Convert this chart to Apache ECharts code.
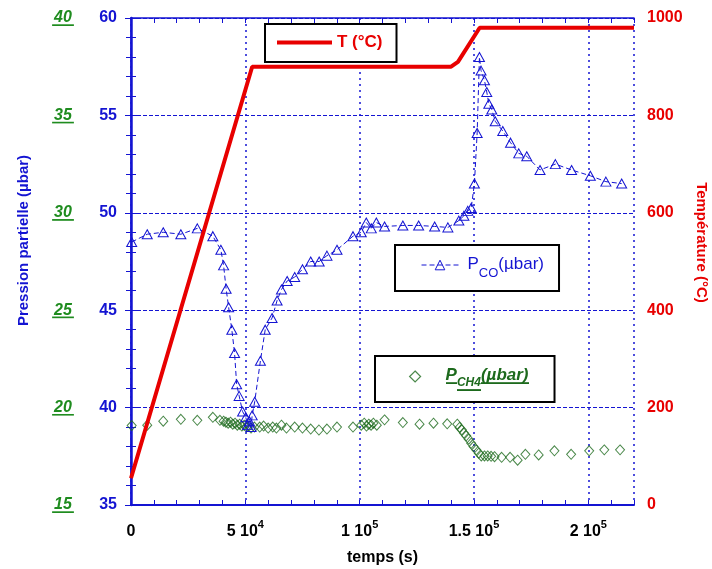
<!DOCTYPE html>
<html><head><meta charset="utf-8">
<script src="https://cdn.jsdelivr.net/npm/echarts@6/dist/echarts.min.js"></script>
<style>html,body{margin:0;padding:0;background:#fff}#c{width:712px;height:569px}</style>
</head><body><div id="c"></div>
<script>
// ---------- DATA ----------
const tempTime = [0, 53000, 140000, 143000, 152500, 220000];
const tempVal  = [55, 900, 900, 910, 980, 980];

const coTime = [300, 7100, 14100, 21800, 29000, 35800, 39300, 40500, 41600, 42700, 44100, 45300, 46200, 47300, 48800, 50200, 51000, 51800, 52500, 53000, 54100, 56600, 58700, 61700, 63900, 65800, 68300, 71600, 75000, 78600, 82300, 85700, 90100, 97100, 100700, 102900, 105100, 107300, 110900, 118900, 125800, 132800, 138600, 143400, 145600, 147300, 148800, 150200, 151400, 152400, 153100, 154600, 155600, 156500, 157800, 159300, 162600, 166000, 169600, 173100, 178900, 185600, 192700, 200900, 207700, 214600];
const coVal  = [48.5, 48.9, 49.0, 48.9, 49.2, 48.8, 48.1, 47.3, 46.1, 45.15, 44.0, 42.8, 41.2, 40.6, 39.8, 39.5, 39.1, 39.3, 39.0, 39.6, 40.3, 42.4, 44.0, 44.6, 45.5, 46.06, 46.5, 46.7, 47.1, 47.5, 47.5, 47.8, 48.1, 48.8, 49.0, 49.5, 49.2, 49.5, 49.3, 49.35, 49.35, 49.3, 49.25, 49.6, 49.85, 50.1, 50.25, 51.5, 54.1, 58.0, 57.3, 56.8, 56.2, 55.6, 55.3, 54.7, 54.2, 53.6, 53.05, 52.9, 52.2, 52.5, 52.2, 51.9, 51.6, 51.5];

const ch4Time = [300, 7100, 14100, 21800, 29000, 35800, 38900, 40500, 41500, 42500, 43500, 44500, 45500, 46500, 47500, 48500, 49500, 50500, 51500, 52500, 54000, 56300, 58000, 60000, 62000, 63600, 65800, 68000, 71600, 75000, 78600, 82200, 85700, 90100, 97100, 100700, 102000, 103000, 104000, 105000, 106000, 107500, 110900, 118900, 126200, 132300, 138300, 142700, 143700, 144700, 145600, 146600, 147700, 148800, 149800, 151000, 152100, 153200, 154600, 156000, 157500, 159000, 162100, 165800, 169100, 172500, 178300, 185200, 192500, 200400, 207000, 213900];
const ch4Val  = [19.08, 19.1, 19.3, 19.4, 19.35, 19.5, 19.35, 19.3, 19.25, 19.2, 19.25, 19.15, 19.2, 19.1, 19.15, 19.05, 19.1, 19.0, 19.05, 18.95, 19.0, 19.0, 19.05, 18.95, 19.0, 18.95, 19.1, 18.95, 19.0, 18.95, 18.9, 18.85, 18.9, 19.0, 19.0, 19.1, 19.2, 19.05, 19.15, 19.1, 19.2, 19.1, 19.37, 19.23, 19.15, 19.2, 19.17, 19.15, 18.98, 18.86, 18.69, 18.55, 18.38, 18.17, 18.0, 17.83, 17.66, 17.52, 17.52, 17.52, 17.5, 17.48, 17.45, 17.45, 17.3, 17.6, 17.57, 17.78, 17.6, 17.78, 17.83, 17.83];

const xTickValues   = [0, 50000, 100000, 150000, 200000];
const xTickMantissa = ['0', '5', '1', '1.5', '2'];
const xTickExponent = ['', '4', '5', '5', '5'];

const seriesNames = ['T (°C)', 'Pco', 'Pch4'];

// ---------- STYLE ----------
const FONT = 'Liberation Sans, Arial, sans-serif';
const BLUE = '#1414d2';
const RED = '#e80000';
const GREEN = '#1f8c1f';
const DGREEN = '#1d6a1d';
const CLEAR = 'rgba(255,255,255,0)';

function underline(h, thick, color) {
  const c = document.createElement('canvas');
  c.width = 4; c.height = h;
  const ctx = c.getContext('2d');
  ctx.fillStyle = color;
  ctx.fillRect(0, h - thick, 4, thick);
  return c;
}

const chart = echarts.init(document.getElementById('c'), null, {renderer: 'canvas'});

const option = {
  backgroundColor: '#fff',
  animation: false,
  textStyle: {fontFamily: FONT},
  grid: {left: 131, right: 78, top: 18, bottom: 64, containLabel: false, outerBoundsMode: 'none'},
  legend: [
    {
      data: [{name: seriesNames[0], icon: 'rect'}], left: 265, top: 24, orient: 'horizontal',
      padding: [10, 14, 11, 12], itemWidth: 55, itemHeight: 4,
      borderColor: '#000', borderWidth: 2, backgroundColor: '#fff',
      itemStyle: {color: RED},
      textStyle: {color: RED, fontWeight: 'bold', fontSize: 17, fontFamily: FONT}
    },
    {
      data: [seriesNames[1]], left: 395, top: 245,
      padding: [11, 15, 11, 26], itemWidth: 37, itemHeight: 12,
      borderColor: '#000', borderWidth: 2, backgroundColor: '#fff',
      itemStyle: {color: CLEAR, borderColor: BLUE, borderWidth: 1},
      lineStyle: {color: BLUE, width: 1, type: [5, 3]},
      formatter: () => '{sp| }{p|P}{s|CO}{p|(µbar)}',
      textStyle: {
        color: BLUE, fontFamily: FONT,
        rich: {
          sp: {width: 4},
          p: {fontSize: 17, lineHeight: 18, verticalAlign: 'top', color: BLUE, fontFamily: FONT},
          s: {fontSize: 13, lineHeight: 14, padding: [11, 0, 0, 0], verticalAlign: 'top', color: BLUE, fontFamily: FONT}
        }
      }
    },
    {
      data: [seriesNames[2]], left: 375, top: 356,
      padding: [11, 26, 11, 34], itemWidth: 11, itemHeight: 11,
      borderColor: '#000', borderWidth: 2, backgroundColor: '#fff',
      itemStyle: {color: CLEAR, borderColor: DGREEN, borderWidth: 1.2},
      formatter: () => '{sp| }{p|P}{s|CH4}{p|(µbar)}',
      textStyle: {
        color: DGREEN, fontFamily: FONT,
        rich: {
          sp: {width: 20},
          p: {fontSize: 17, lineHeight: 19, verticalAlign: 'top', color: DGREEN, fontWeight: 'bold', fontStyle: 'italic', fontFamily: FONT,
              backgroundColor: {image: underline(19, 2, DGREEN)}},
          s: {fontSize: 12, lineHeight: 14, padding: [10, 0, 2, 0], verticalAlign: 'top', color: DGREEN, fontWeight: 'bold', fontStyle: 'italic', fontFamily: FONT,
              backgroundColor: {image: underline(26, 2, DGREEN)}}
        }
      }
    }
  ],
  xAxis: [
    {
      type: 'value', position: 'bottom', min: 0, max: 220000, interval: 10000,
      name: 'temps (s)', nameLocation: 'middle', nameGap: 45,
      nameTextStyle: {color: '#000', fontWeight: 'bold', fontSize: 16, fontFamily: FONT},
      axisLine: {show: true, lineStyle: {color: BLUE, width: 2}},
      axisTick: {show: true, inside: true, length: 5, lineStyle: {color: BLUE, width: 1}},
      splitLine: {show: false},
      axisLabel: {
        show: true, margin: 14, showMaxLabel: true,
        formatter: v => {
          const i = xTickValues.indexOf(Math.round(v));
          if (i < 0) return '';
          if (!xTickExponent[i]) return '{n|' + xTickMantissa[i] + '}';
          return '{n|' + xTickMantissa[i] + ' 10}{e|' + xTickExponent[i] + '}';
        },
        rich: {
          n: {fontSize: 16, fontWeight: 'bold', color: '#000', padding: [5, 0, 0, 0], fontFamily: FONT},
          e: {fontSize: 11, fontWeight: 'bold', color: '#000', verticalAlign: 'top', fontFamily: FONT}
        }
      }
    },
    {
      type: 'value', position: 'top', min: 0, max: 220000, interval: 10000,
      axisLine: {show: true, lineStyle: {color: BLUE, width: 1.5}},
      axisTick: {show: true, inside: true, length: 5, lineStyle: {color: BLUE, width: 1}},
      axisLabel: {show: false}, splitLine: {show: false}
    },
    {
      type: 'value', position: 'bottom', min: 0, max: 220000, interval: 50000,
      axisLine: {show: false}, axisTick: {show: false}, axisLabel: {show: false},
      splitLine: {show: true, lineStyle: {color: BLUE, type: [2, 4], width: 1.5}}
    }
  ],
  yAxis: [
    {
      type: 'value', position: 'left', min: 35, max: 60, interval: 5,
      name: 'Pression partielle (µbar)', nameLocation: 'middle', nameGap: 100,
      nameTextStyle: {color: BLUE, fontWeight: 'bold', fontSize: 15, fontFamily: FONT, padding: [0, 0, 0, 42]},
      axisLine: {show: true, lineStyle: {color: BLUE, width: 1.5}},
      axisTick: {show: true, inside: true, length: 6, lineStyle: {color: BLUE}},
      minorTick: {show: true, splitNumber: 5, length: 5, lineStyle: {color: BLUE}},
      axisLabel: {color: BLUE, fontWeight: 'bold', fontSize: 16, margin: 14, fontFamily: FONT},
      splitLine: {show: true, lineStyle: {color: BLUE, type: [4, 2], width: 1}}
    },
    {
      type: 'value', position: 'right', min: 0, max: 1000, interval: 200,
      name: 'Température (°C)', nameLocation: 'middle', nameGap: 58, nameRotate: -90,
      nameTextStyle: {color: RED, fontWeight: 'bold', fontSize: 15, fontFamily: FONT, padding: [0, 38, 0, 0]},
      axisLine: {show: true, lineStyle: {color: BLUE, width: 2.5}},
      axisTick: {show: true, inside: true, length: 6, lineStyle: {color: BLUE}},
      minorTick: {show: true, splitNumber: 5, length: 5, lineStyle: {color: BLUE}},
      axisLabel: {color: RED, fontWeight: 'bold', fontSize: 16, margin: 13, fontFamily: FONT, formatter: v => String(v)},
      splitLine: {show: false}
    },
    {
      type: 'value', position: 'left', offset: 50, min: 15, max: 40, interval: 5,
      axisLine: {show: false}, axisTick: {show: false}, splitLine: {show: false},
      axisLabel: {
        margin: 18, align: 'center',
        formatter: v => '{g|' + v + '}',
        rich: {
          g: {fontSize: 16, fontWeight: 'bold', fontStyle: 'italic', color: GREEN, lineHeight: 19, padding: [0, 2, 0, 2], fontFamily: FONT,
              backgroundColor: {image: underline(19, 2, GREEN)}}
        }
      }
    }
  ],
  series: [
    {
      name: seriesNames[0], type: 'line', xAxisIndex: 0, yAxisIndex: 1,
      data: tempTime.map((t, i) => [t, tempVal[i]]),
      showSymbol: false, symbol: 'none', z: 5,
      lineStyle: {color: RED, width: 4}, itemStyle: {color: RED}
    },
    {
      name: seriesNames[1], type: 'line', xAxisIndex: 0, yAxisIndex: 0,
      data: coTime.map((t, i) => [t, coVal[i]]),
      symbol: 'triangle', symbolSize: [10, 9], z: 3,
      lineStyle: {color: BLUE, width: 1, type: [5, 3]},
      itemStyle: {color: CLEAR, borderColor: BLUE, borderWidth: 1}
    },
    {
      name: seriesNames[2], type: 'scatter', xAxisIndex: 0, yAxisIndex: 2,
      data: ch4Time.map((t, i) => [t, ch4Val[i]]),
      symbol: 'diamond', symbolSize: [9, 10], z: 2,
      itemStyle: {color: CLEAR, borderColor: DGREEN, borderWidth: 1}
    }
  ]
};
chart.setOption(option);
</script>
</body></html>
